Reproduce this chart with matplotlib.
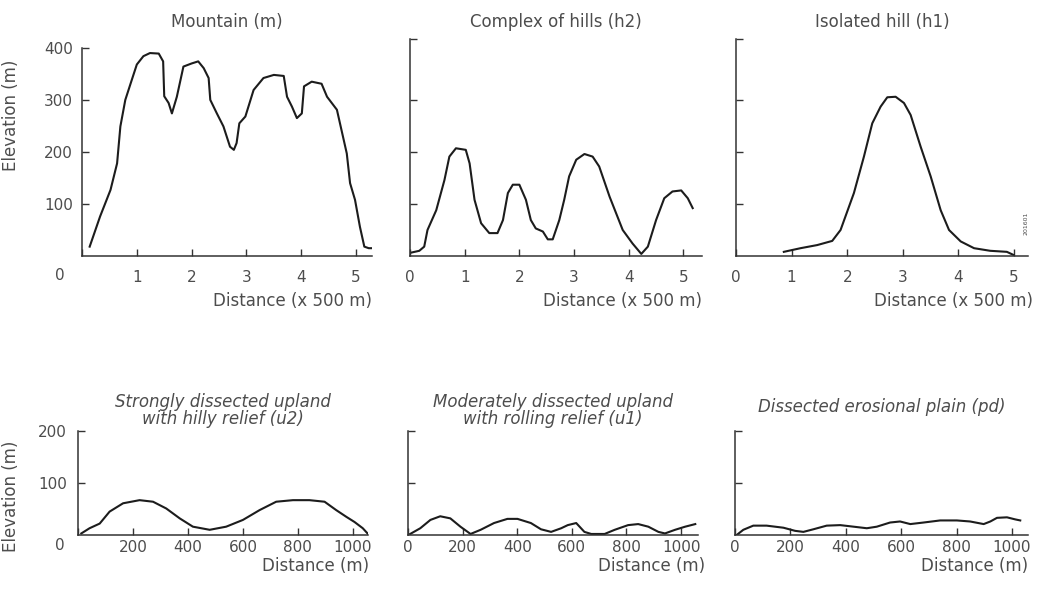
import matplotlib.pyplot as plt

# profiles (distance, elevation)
mountain_x = [0.14, 0.33, 0.52, 0.64, 0.70, 0.79, 0.91, 1.0, 1.12, 1.24, 1.40, 1.48, 1.50, 1.58, 1.64,
              1.73, 1.85, 2.0, 2.12, 2.22, 2.31, 2.34, 2.46, 2.58, 2.70, 2.77, 2.82, 2.87, 2.98, 3.13,
              3.31, 3.50, 3.68, 3.74, 3.83, 3.92, 4.01, 4.05, 4.19, 4.37, 4.47, 4.65, 4.83, 4.89, 4.98,
              5.07, 5.15, 5.23, 5.29]
mountain_y = [18, 76, 127, 178, 249, 300, 339, 368, 384, 390, 389, 374, 307, 294, 274,
              306, 364, 370, 374, 361, 342, 300, 274, 249, 210, 204, 217, 255, 268, 319,
              342, 348, 346, 306, 287, 265, 274, 326, 335, 331, 306, 281, 197, 140, 108,
              56, 18, 15, 15]

hills_x = [0.0, 0.17, 0.26, 0.32, 0.48, 0.63, 0.72, 0.84, 1.02, 1.09, 1.18, 1.30, 1.45, 1.60, 1.70,
           1.79, 1.88, 2.0, 2.12, 2.21, 2.30, 2.43, 2.52, 2.61, 2.73, 2.82, 2.91, 3.04, 3.19, 3.34,
           3.46, 3.65, 3.89, 4.07, 4.23, 4.35, 4.50, 4.65, 4.80, 4.96, 5.08, 5.17]
hills_y = [6, 10, 18, 50, 88, 146, 191, 207, 204, 178, 108, 63, 44, 44, 69,
           121, 137, 137, 108, 69, 53, 47, 32, 32, 69, 108, 153, 185, 196, 191,
           172, 114, 50, 24, 4, 18, 69, 111, 124, 126, 111, 92]

hill_x = [0.86, 1.16, 1.46, 1.73, 1.88, 2.12, 2.30, 2.45, 2.60, 2.72, 2.87, 3.02, 3.14, 3.32, 3.50,
          3.68, 3.83, 4.04, 4.28, 4.57, 4.87, 4.99]
hill_y = [8, 15, 21, 29, 50, 121, 191, 255, 287, 305, 306, 294, 271, 210, 153,
          88, 50, 28, 15, 10, 8, 2]

u2_x = [12, 42, 79, 115, 164, 224, 273, 321, 370, 418, 479, 539, 600, 661, 721, 782, 842, 897,
        939, 976, 1006, 1036, 1055]
u2_y = [3, 13, 22, 45, 61, 67, 64, 51, 32, 16, 10, 16, 29, 48, 64, 67, 67, 64,
        48, 35, 25, 13, 2]

u1_x = [8, 45, 82, 118, 155, 192, 229, 266, 315, 364, 401, 450, 487, 524, 561, 585, 616, 646,
        671, 720, 757, 806, 843, 880, 917, 941, 978, 1015, 1052]
u1_y = [2, 13, 29, 36, 32, 16, 2, 10, 23, 31, 31, 23, 11, 6, 13, 19, 23, 6,
        2, 2, 10, 19, 21, 16, 6, 3, 10, 16, 21]

pd_x = [6, 30, 66, 114, 175, 217, 247, 283, 331, 380, 428, 476, 512, 560, 596, 633, 681, 741,
        801, 849, 898, 922, 946, 982, 1012, 1030]
pd_y = [0, 10, 18, 18, 14, 8, 6, 11, 18, 19, 16, 13, 16, 24, 26, 21, 24, 28,
        28, 26, 21, 26, 33, 34, 30, 28]

top_titles = ['Mountain (m)', 'Complex of hills (h2)', 'Isolated hill (h1)']
bottom_titles = ['Strongly dissected upland\nwith hilly relief (u2)',
                 'Moderately dissected upland\nwith rolling relief (u1)',
                 'Dissected erosional plain (pd)']
top_xticks = [0, 1, 2, 3, 4, 5]
bottom_xticks = [0, 200, 400, 600, 800, 1000]

plt.rcParams['font.family'] = 'DejaVu Sans'
txt = '#4d4d4d'
ink = '#1c1c1c'

fig = plt.figure(figsize=(10.37, 5.92), dpi=100)
W, H = 1037, 592


def add_ax(l, t, r, b):
    return fig.add_axes([l / W, 1 - b / H, (r - l) / W, (b - t) / H])


def style(ax):
    for s in ['top', 'right']:
        ax.spines[s].set_visible(False)
    for s in ['left', 'bottom']:
        ax.spines[s].set_color('#333333')
        ax.spines[s].set_linewidth(1.1)
    ax.tick_params(direction='in', length=5, width=1, color='#333333', labelcolor=txt, labelsize=11)


top_boxes = [(82, 39, 372, 256), (410, 39, 702, 256), (736, 39, 1028, 256)]
top_xlim = [5.29, 5.34, 5.25]
top_data = [(mountain_x, mountain_y), (hills_x, hills_y), (hill_x, hill_y)]
top_xlab_x = [1.0, 1.0, 1.017]

for i in range(3):
    ax = add_ax(*top_boxes[i])
    style(ax)
    x, y = top_data[i]
    ax.plot(x, y, color=ink, lw=1.5, solid_joinstyle='round')
    ax.set_xlim(0, top_xlim[i])
    ax.set_ylim(0, 417)
    ax.set_xticks(top_xticks)
    ax.tick_params(axis='x', pad=10)
    ax.tick_params(axis='y', pad=6.5)
    if i == 0:
        ax.set_xticklabels([''] + [str(t) for t in top_xticks[1:]])
        ax.annotate('0', xy=(0, 0), xycoords='axes fraction', xytext=(-22, -20),
                    textcoords='offset pixels', ha='center', va='center', color=txt, fontsize=11)
        ax.set_yticks([100, 200, 300, 400])
        ax.spines['left'].set_bounds(0, 400)
        ax.set_ylabel('Elevation (m)', fontsize=12, color=txt)
        ax.yaxis.set_label_coords(-0.214, 0.65)
    else:
        ax.set_yticks([100, 200, 300, 417])
        ax.set_yticklabels([])
    ax.set_xlabel('Distance (x 500 m)', fontsize=12, color=txt, loc='right')
    ax.xaxis.set_label_coords(top_xlab_x[i], -0.166)
    ax.text(0.5, 1.078, top_titles[i], transform=ax.transAxes, ha='center', va='center',
            fontsize=12, color=txt)
    if i == 2:
        ax.text(1.0, 0.15, '201601', transform=ax.transAxes, rotation=90, fontsize=4.5,
                color=txt, ha='right', va='center')

bot_boxes = [(78, 431, 368, 535), (408, 431, 698, 535), (735, 431, 1028, 535)]
bot_xlim = [1055, 1062, 1058]
bot_data = [(u2_x, u2_y), (u1_x, u1_y), (pd_x, pd_y)]
bot_xlab_x = [1.005, 1.024, 1.0]
bot_title_y = [1.20, 1.20, 1.23]

for i in range(3):
    ax = add_ax(*bot_boxes[i])
    style(ax)
    x, y = bot_data[i]
    ax.plot(x, y, color=ink, lw=1.5, solid_joinstyle='round')
    ax.set_xlim(0, bot_xlim[i])
    ax.set_ylim(0, 200)
    ax.set_xticks(bottom_xticks)
    ax.set_yticks([100, 200])
    ax.tick_params(axis='x', pad=3.5)
    ax.tick_params(axis='y', pad=8)
    if i == 0:
        ax.set_xticklabels([''] + [str(t) for t in bottom_xticks[1:]])
        ax.annotate('0', xy=(0, 0), xycoords='axes fraction', xytext=(-18, -10),
                    textcoords='offset pixels', ha='center', va='center', color=txt, fontsize=11)
        ax.set_ylabel('Elevation (m)', fontsize=12, color=txt)
        ax.yaxis.set_label_coords(-0.2, 0.37)
    else:
        ax.set_yticklabels([])
    ax.set_xlabel('Distance (m)', fontsize=12, color=txt, loc='right')
    ax.xaxis.set_label_coords(bot_xlab_x[i], -0.21)
    ax.text(0.5, bot_title_y[i], bottom_titles[i], transform=ax.transAxes, ha='center',
            va='center', fontsize=12, color=txt, style='italic', linespacing=0.95)

fig.savefig('out.png', dpi=100)
